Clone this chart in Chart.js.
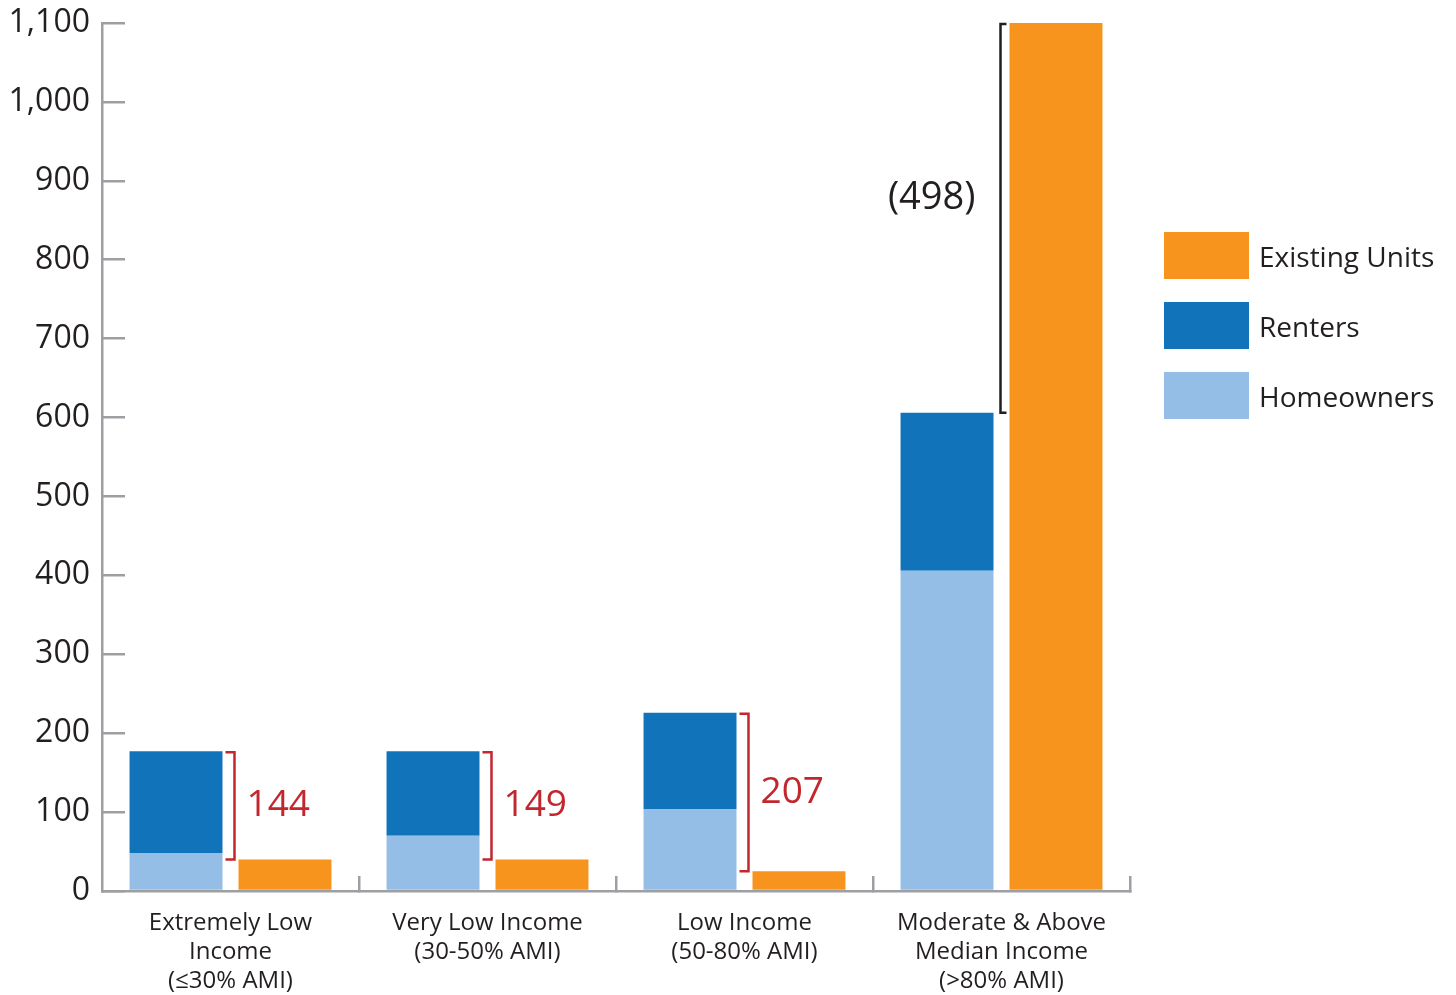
<!DOCTYPE html>
<html><head><meta charset="utf-8">
<script src="https://cdn.jsdelivr.net/npm/chart.js@4"></script>
<style>
html,body{margin:0;padding:0;background:#fff;}
#wrap{position:relative;width:1456px;height:995px;}
#legend{position:absolute;left:1164px;top:232px;font-family:"Open Sans",sans-serif;font-size:28px;color:#231F20;}
.item{display:flex;align-items:center;height:47px;margin-bottom:23px;white-space:nowrap;}
.sw{width:85px;height:47px;margin-right:10px;flex:none;}
</style></head><body>
<div id="wrap"><canvas id="c" width="1456" height="995"></canvas><div id="legend"></div></div>
<script>
const categories = [["Extremely Low","Income","(≤30% AMI)"],["Very Low Income","(30-50% AMI)"],["Low Income","(50-80% AMI)"],["Moderate & Above","Median Income","(>80% AMI)"]];
const homeowners = [48, 70, 104, 406];
const renters = [129, 107, 122, 200];
const existingUnits = [40, 40, 25, 1100];
const gapLabels = ["144", "149", "207", "(498)"];
const yTicks = [0, 100, 200, 300, 400, 500, 600, 700, 800, 900, 1000, 1100];
const seriesNames = ["Homeowners", "Renters", "Existing Units"];

const COLORS = {home:'#94BEE5', rent:'#1174BB', exist:'#F7941E', axis:'#9D9FA2', text:'#231F20', red:'#C1272D'};
const FONT = '"Open Sans", sans-serif';

const bracketPlugin = {
  id: 'brackets',
  afterDatasetsDraw(chart) {
    const ctx = chart.ctx;
    const mR = chart.getDatasetMeta(1), mE = chart.getDatasetMeta(2);
    gapLabels.forEach((lab, i) => {
      const r = mR.data[i], e = mE.data[i];
      const top = Math.min(r.y, e.y), bot = Math.max(r.y, e.y);
      const rightEdge = r.x + r.width / 2;
      const leftOrange = e.x - e.width / 2;
      const last = i === gapLabels.length - 1;
      const col = last ? COLORS.text : COLORS.red;
      const x = last ? (rightEdge + leftOrange) / 2 - 1 : rightEdge + 12;
      const s = last ? 6 : -9;
      ctx.save();
      ctx.strokeStyle = col;
      ctx.lineWidth = 2.5;
      ctx.beginPath();
      ctx.moveTo(x + s, top + 1); ctx.lineTo(x, top + 1); ctx.lineTo(x, bot); ctx.lineTo(x + s, bot);
      ctx.stroke();
      ctx.fillStyle = col;
      ctx.textBaseline = 'middle';
      const mid = (top + bot) / 2;
      if (last) {
        ctx.font = '38px ' + FONT;
        ctx.textAlign = 'right';
        ctx.fillText(lab, x - 25, mid - 20);
      } else {
        ctx.font = '37px ' + FONT;
        ctx.textAlign = 'left';
        ctx.fillText(lab, x + 12, mid);
      }
      ctx.restore();
    });
  }
};

const chart = new Chart(document.getElementById('c'), {
  type: 'bar',
  data: {
    labels: categories,
    datasets: [
      {label: seriesNames[0], data: homeowners, backgroundColor: COLORS.home, stack: 'need'},
      {label: seriesNames[1], data: renters, backgroundColor: COLORS.rent, stack: 'need'},
      {label: seriesNames[2], data: existingUnits, backgroundColor: COLORS.exist, stack: 'exist'}
    ]
  },
  options: {
    responsive: false,
    animation: false,
    categoryPercentage: 0.848,
    barPercentage: 0.853,
    layout: {padding: {top: 23, right: 326, left: 0, bottom: 0}},
    plugins: {legend: {display: false}, tooltip: {enabled: false}},
    scales: {
      x: {
        offset: true,
        border: {display: true, color: COLORS.axis, width: 2.5},
        grid: {
          offset: true, drawOnChartArea: false, tickLength: -15, lineWidth: 2.5,
          tickColor: (c) => (c.index === 0 || c.index === categories.length) ? 'rgba(0,0,0,0)' : COLORS.axis
        },
        ticks: {color: COLORS.text, font: {family: FONT, size: 24, lineHeight: 1.2}, padding: 33, maxRotation: 0, autoSkip: false},
        afterFit: (s) => { s.height = 104; s.paddingLeft = 0; s.paddingRight = 0; }
      },
      y: {
        stacked: true,
        min: 0, max: 1100,
        border: {display: true, color: COLORS.axis, width: 2.5},
        grid: {drawOnChartArea: false, tickLength: -23, tickColor: COLORS.axis, lineWidth: 2.5},
        afterBuildTicks: (s) => { s.ticks = yTicks.map(v => ({value: v})); },
        ticks: {color: COLORS.text, font: {family: FONT, size: 32}, padding: 35,
          callback: (v) => Number(v).toLocaleString('en-US')},
        afterFit: (s) => { s.width = 102; s.paddingTop = 0; s.paddingBottom = 0; }
      }
    }
  },
  plugins: [bracketPlugin]
});

// legend (order: Existing Units, Renters, Homeowners)
const legendOrder = [2, 1, 0];
const lg = document.getElementById('legend');
legendOrder.forEach(i => {
  const ds = chart.data.datasets[i];
  const it = document.createElement('div'); it.className = 'item';
  const sw = document.createElement('div'); sw.className = 'sw'; sw.style.background = ds.backgroundColor;
  const tx = document.createElement('span'); tx.textContent = ds.label;
  it.appendChild(sw); it.appendChild(tx); lg.appendChild(it);
});
</script>
</body></html>
